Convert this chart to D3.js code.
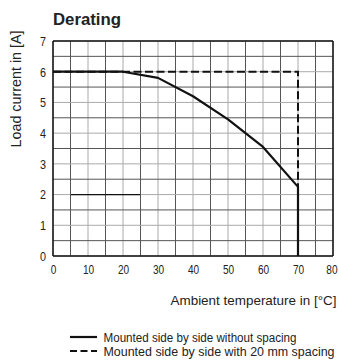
<!DOCTYPE html>
<html><head><meta charset="utf-8">
<script src="https://cdn.jsdelivr.net/npm/d3@7"></script>
<style>body{margin:0;background:#fff}svg{display:block}text{font-family:"Liberation Sans",Arial,sans-serif;fill:#222}</style>
</head><body><svg id="c" width="339" height="364"></svg>
<script>
const xTicks = [0,10,20,30,40,50,60,70,80];
const yTicks = [0,1,2,3,4,5,6,7];
const solidX = [0,20,30,40,50,60,70,70];
const solidY = [6,6,5.8,5.2,4.45,3.55,2.25,0];
const dashedX = [0,70,70];
const dashedY = [6,6,0];
const markX = [5,25];
const markY = [2,2];
const legendLabels = ["Mounted side by side without spacing","Mounted side by side with 20 mm spacing"];

const FONT = '"Liberation Sans",Arial,sans-serif';
const svg = d3.select("#c");
const x = d3.scaleLinear().domain([0,80]).range([53,333]);
const y = d3.scaleLinear().domain([0,7]).range([256,41]);

const g = svg.append("g");
d3.range(0,80.1,5).forEach(v=>{
  g.append("line").attr("x1",x(v)).attr("x2",x(v)).attr("y1",y(0)).attr("y2",y(7))
   .attr("stroke", v%10===0 ? "#aaa" : "#555").attr("stroke-width",1);
});
d3.range(0,7.01,0.5).forEach(v=>{
  g.append("line").attr("x1",x(0)).attr("x2",x(80)).attr("y1",y(v)).attr("y2",y(v))
   .attr("stroke", v%1===0 ? "#aaa" : "#555").attr("stroke-width",1);
});
[[0,7,80,7],[0,0,80,0],[0,0,0,7],[80,0,80,7]].forEach(a=>{
  g.append("line").attr("x1",x(a[0])).attr("y1",y(a[1])).attr("x2",x(a[2])).attr("y2",y(a[3])).attr("stroke","#111").attr("stroke-width",1.5);
});

const line = d3.line().x(d=>x(d[0])).y(d=>y(d[1]));
svg.append("path").datum(markX.map((d,i)=>[d,markY[i]]))
  .attr("d",line).attr("stroke","#111").attr("stroke-width",1.2).attr("fill","none");
svg.append("path").datum(dashedX.map((d,i)=>[d,dashedY[i]]))
  .attr("d",line).attr("fill","none").attr("stroke","#111").attr("stroke-width",2).attr("stroke-dasharray","8,3.5");
svg.append("path").datum(solidX.map((d,i)=>[d,solidY[i]]))
  .attr("d",line).attr("fill","none").attr("stroke","#111").attr("stroke-width",2.2).attr("stroke-linejoin","round");

const xa = d3.axisBottom(x).tickValues(xTicks).tickFormat(d3.format("d")).tickSize(0).tickPadding(8);
const gx = svg.append("g").attr("transform",`translate(0,${y(0)})`).call(xa);
gx.select(".domain").remove();
gx.selectAll("text").attr("font-size",13.5).style("font-family",FONT).attr("fill","#222")
  .attr("textLength",d=>String(d).length*5.6).attr("lengthAdjust","spacingAndGlyphs");
gx.selectAll("text").filter(d=>d===80).attr("text-anchor","end").attr("x",4);
const ya = d3.axisLeft(y).tickValues(yTicks).tickFormat(d3.format("d")).tickSize(0).tickPadding(7);
const gy = svg.append("g").attr("transform",`translate(${x(0)},0)`).call(ya);
gy.select(".domain").remove();
gy.selectAll("text").attr("font-size",13.5).style("font-family",FONT).attr("fill","#222")
  .attr("textLength",6).attr("lengthAdjust","spacingAndGlyphs");

function txt(t, opts){
  const e = svg.append("text").text(t).attr("lengthAdjust","spacingAndGlyphs");
  Object.entries(opts).forEach(([k,v])=>e.attr(k,v));
  return e;
}
txt("Derating",{x:53,y:25,"font-size":17,"font-weight":"bold",textLength:68});
txt("Load current in [A]",{transform:"translate(21,89) rotate(-90)","text-anchor":"middle","font-size":14,textLength:117});
txt("Ambient temperature in [°C]",{x:336.5,y:305,"text-anchor":"end","font-size":13.5,textLength:166});

legendLabels.forEach((t,i)=>{
  const yy = 337 + i*14;
  svg.append("line").attr("x1",70).attr("x2",97).attr("y1",yy).attr("y2",yy).attr("stroke","#111").attr("stroke-width",2.2)
    .attr("stroke-dasharray", i===1 ? "7,3.5" : null);
  txt(t,{x:103.5,y:yy+5,"font-size":12,textLength:i===0?193:231});
});
</script></body></html>
